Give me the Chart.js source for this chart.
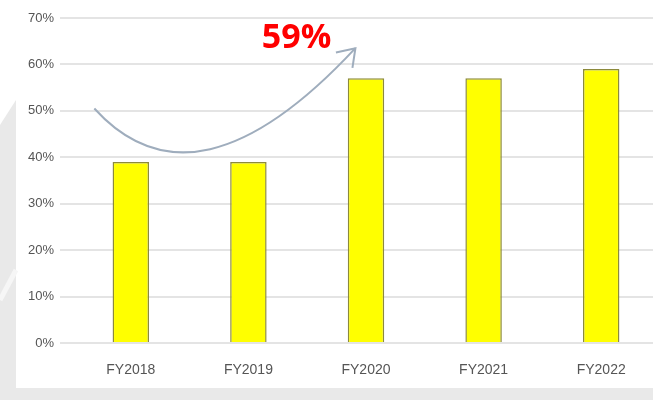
<!DOCTYPE html>
<html>
<head>
<meta charset="utf-8">
<script src="https://cdn.jsdelivr.net/npm/chart.js@4"></script>
<style>
  html, body { margin: 0; padding: 0; overflow: hidden; background: #fff; }
  #wrap { width: 660px; height: 400px; }
</style>
</head>
<body>
<div id="wrap"><canvas id="chart"></canvas></div>
<script>
var categories = ["FY2018", "FY2019", "FY2020", "FY2021", "FY2022"];
var shareValues = [39, 39, 57, 57, 59];
var yTicks = [0, 10, 20, 30, 40, 50, 60, 70];
var calloutText = "59%";

// grey frame behind the chart (left strip + bottom band)
var backgroundPlugin = {
    id: 'bgFrame',
    beforeDraw: function (chart) {
        var c = chart.ctx;
        c.save();
        c.fillStyle = '#ffffff';
        c.fillRect(0, 0, chart.width, chart.height);
        c.fillStyle = '#e9e9e9';
        c.beginPath();
        c.moveTo(0, 125);
        c.lineTo(16, 100);
        c.lineTo(16, 388);
        c.lineTo(chart.width, 388);
        c.lineTo(chart.width, chart.height);
        c.lineTo(0, chart.height);
        c.closePath();
        c.fill();
        // faint diagonal highlight on the left strip
        c.strokeStyle = '#f6f6f6';
        c.lineWidth = 5;
        c.beginPath();
        c.moveTo(0, 300);
        c.lineTo(16, 270);
        c.stroke();
        c.restore();
    }
};

// curved arrow + "59%" callout, anchored to the scales
var arrowPlugin = {
    id: 'growthArrow',
    afterDatasetsDraw: function (chart) {
        var x = chart.scales.x, y = chart.scales.y, c = chart.ctx;
        var step = x.getPixelForValue(1) - x.getPixelForValue(0);
        var p0 = { x: x.getPixelForValue(0) - step * 0.31, y: y.getPixelForValue(50.5) };
        var p1 = { x: x.getPixelForValue(0) + step * 0.55, y: y.getPixelForValue(26.5) };
        var p2 = { x: x.getPixelForValue(2) - step * 0.09, y: y.getPixelForValue(63.5) };
        c.save();
        c.strokeStyle = '#9fadbd';
        c.lineWidth = 2;
        c.beginPath();
        c.moveTo(p0.x, p0.y);
        c.quadraticCurveTo(p1.x, p1.y, p2.x, p2.y);
        c.stroke();
        var ang = Math.atan2(p2.y - p1.y, p2.x - p1.x);
        var len = 20;
        c.beginPath();
        c.moveTo(p2.x - len * Math.cos(ang - 0.6), p2.y - len * Math.sin(ang - 0.6));
        c.lineTo(p2.x, p2.y);
        c.lineTo(p2.x - len * Math.cos(ang + 0.6), p2.y - len * Math.sin(ang + 0.6));
        c.stroke();
        c.fillStyle = '#ff0000';
        c.font = 'bold 34px "Open Sans", "Liberation Sans", sans-serif';
        c.textAlign = 'center';
        c.textBaseline = 'middle';
        c.fillText(calloutText, x.getPixelForValue(1) + step * 0.41, y.getPixelForValue(65.7));
        c.restore();
    }
};

var ctx = document.getElementById("chart").getContext("2d");
var chart = new Chart(ctx, {
    type: 'bar',
    data: {
        labels: categories,
        datasets: [{
            data: shareValues,
            backgroundColor: '#ffff00',
            borderColor: '#8c8a3c',
            borderWidth: 1.5,
            barPercentage: 0.31,
            categoryPercentage: 1.0
        }]
    },
    options: {
        responsive: true,
        maintainAspectRatio: false,
        animation: false,
        layout: { padding: { top: 18, right: 0, bottom: 0, left: 0 } },
        plugins: {
            legend: { display: false },
            tooltip: { enabled: false }
        },
        scales: {
            x: {
                grid: { display: false },
                border: { display: false },
                ticks: {
                    color: '#555555',
                    font: { family: 'Liberation Sans', size: 14 },
                    padding: 11
                },
                afterFit: function (scale) { scale.height = 57; }
            },
            y: {
                min: 0,
                max: 70,
                afterBuildTicks: function (scale) {
                    scale.ticks = yTicks.map(function (v) { return { value: v }; });
                },
                grid: {
                    color: '#e4e4e4',
                    lineWidth: 2,
                    tickLength: 12
                },
                border: { display: false },
                ticks: {
                    color: '#555555',
                    font: { family: 'Liberation Sans', size: 13 },
                    padding: 6,
                    callback: function (value) { return value + '%'; }
                },
                afterFit: function (scale) { scale.width = 72; }
            }
        }
    },
    plugins: [backgroundPlugin, arrowPlugin]
});
</script>
</body>
</html>
